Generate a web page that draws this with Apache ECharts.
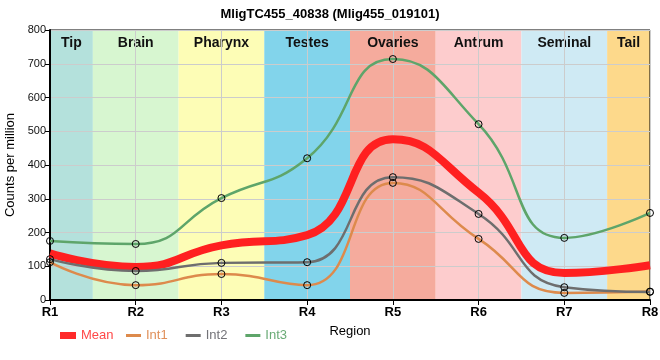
<!DOCTYPE html>
<html><head><meta charset="utf-8">
<script src="https://cdn.jsdelivr.net/npm/echarts@6/dist/echarts.min.js"></script>
<style>html,body{margin:0;padding:0;background:#fff}#c{width:660px;height:360px}</style>
</head><body><div id="c"></div>
<script>
const categories = ['R1','R2','R3','R4','R5','R6','R7','R8'];
const regions = ['Tip','Brain','Pharynx','Testes','Ovaries','Antrum','Seminal','Tail'];
const bandColors = ['#b4e1dc','#d7f6d0','#fdfdb6','#82d4eb','#f5ab9d','#fdcccd','#cfeaf4','#fdd98b'];
const yTicks = [0,100,200,300,400,500,600,700,800];
const meanVals = [138, 98, 162, 192, 476, 318, 80, 103];
const int1Vals = [112, 44, 77, 44, 347, 181, 21, 25];
const int2Vals = [121, 86, 110, 112, 364, 255, 38, 24];
const int3Vals = [175, 166, 302, 420, 714, 521, 184, 258];

const FONT = '"Liberation Sans", Arial, sans-serif';
const chart = echarts.init(document.getElementById('c'));
const toPts = arr => arr.map((v,i)=>[i,v]);
const bands = regions.map((r,i)=>[
  {name:r, xAxis: Math.max(0,i-0.5), itemStyle:{color:bandColors[i]}},
  {xAxis: Math.min(categories.length-1,i+0.5)}
]);
function lineSeries(name, vals, color, width, markers){
  return {
    name, type:'line', data: toPts(vals), smooth:0.5,
    showSymbol: markers, symbol:'circle', symbolSize:7,
    lineStyle:{color, width},
    itemStyle:{color:'rgba(0,0,0,0)', borderColor:'#000', borderWidth:1},
    emphasis:{disabled:true}, z:3, animation:false
  };
}
const legendText = {fontFamily:FONT, fontSize:13};
chart.setOption({
  animation:false,
  title:{text:'MligTC455_40838 (Mlig455_019101)', left:'center', top:3,
    textStyle:{fontFamily:FONT, fontSize:13, fontWeight:'bold', color:'#000'}},
  grid:{left:50, right:10, top:30, bottom:60, show:true, borderColor:'#000', borderWidth:1,
    backgroundColor:'rgba(0,0,0,0)', outerBoundsMode:'none'},
  legend:[
    {data:[{name:'Mean', icon:'rect', itemStyle:{color:'#ff2a2a', borderWidth:0}, textStyle:{color:'#ff4848'}}],
     left:55, top:324, itemWidth:16, itemHeight:7, textStyle:legendText},
    {data:[
      {name:'Int1', icon:'rect', itemStyle:{color:'#dd8a4c', borderWidth:0}, textStyle:{color:'#e0905a'}},
      {name:'Int2', icon:'rect', itemStyle:{color:'#6e6e6e', borderWidth:0}, textStyle:{color:'#737378'}},
      {name:'Int3', icon:'rect', itemStyle:{color:'#5ea56a', borderWidth:0}, textStyle:{color:'#6aab76'}}],
     left:121, top:324, itemWidth:15, itemHeight:3, itemGap:18, textStyle:legendText}
  ],
  xAxis:{type:'value', min:0, max:categories.length-1, interval:1,
    name:'Region', nameLocation:'middle', nameGap:25,
    nameTextStyle:{fontFamily:FONT, fontSize:13, color:'#000'},
    axisLine:{lineStyle:{color:'#000', width:2}},
    axisTick:{show:true, length:5, lineStyle:{color:'#000'}},
    axisLabel:{formatter:v=>categories[v], fontFamily:FONT, fontWeight:'bold', fontSize:13, color:'#000', margin:6},
    splitLine:{show:true, lineStyle:{color:'#cccccc', width:1}}},
  yAxis:{type:'value', min:0, max:800, interval:100,
    name:'Counts per million', nameLocation:'middle', nameGap:31,
    nameTextStyle:{fontFamily:FONT, fontSize:13, color:'#000'},
    axisLine:{show:true, lineStyle:{color:'#000', width:2}},
    axisTick:{show:true, length:5, lineStyle:{color:'#000'}},
    axisLabel:{formatter:v=>yTicks.includes(v)?String(v):'', fontFamily:FONT, fontSize:11, color:'#111', margin:4},
    splitLine:{show:true, lineStyle:{color:'#cccccc', width:1}}},
  series:[
    {name:'bands', type:'line', data:[], z:-1, silent:true,
     markArea:{silent:true, z:-1,
       label:{show:true, position:'insideTop', distance:6, fontFamily:FONT, fontSize:14, fontWeight:'bold', color:'#111'},
       data:bands}},
    lineSeries('Mean', meanVals, '#ff2020', 8, false),
    lineSeries('Int1', int1Vals, '#dd8a4c', 2.5, true),
    lineSeries('Int2', int2Vals, '#6e6e6e', 2.5, true),
    lineSeries('Int3', int3Vals, '#5ea56a', 2.5, true)
  ]
});
</script></body></html>
